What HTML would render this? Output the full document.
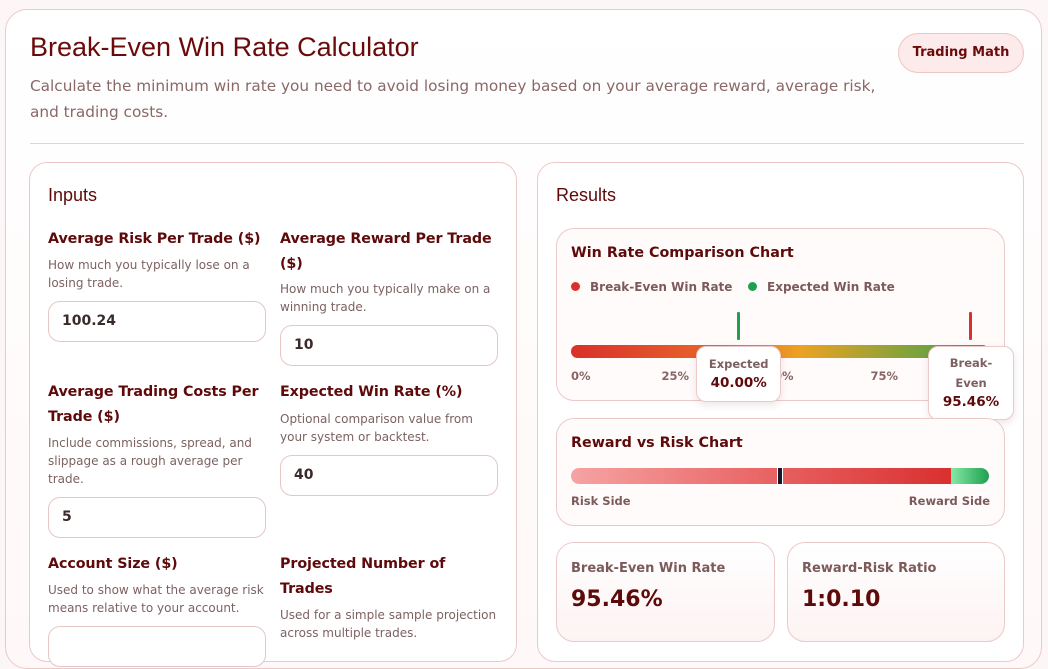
<!DOCTYPE html>
<html><head><meta charset="utf-8">
<style>
*{box-sizing:border-box;margin:0;padding:0}
body{width:1048px;height:630px;overflow:hidden;background:#fdf6f6;font-family:"DejaVu Sans","Liberation Sans",sans-serif;position:relative}
.abs{position:absolute}
.card{position:absolute;border:1px solid #ecc9c9;background:#fff;border-radius:18px}
.lbl{position:absolute;font-weight:bold;font-size:14.3px;color:#5e0a0a;line-height:25px;letter-spacing:-0.1px}
.hint{position:absolute;font-size:12px;color:#7d6262;line-height:18px}
.inp{position:absolute;width:218px;height:41px;border:1px solid #e6c6c6;border-radius:12px;background:#fff;font-weight:bold;font-size:14px;color:#3a2a2a;padding:11px 0 0 13px}
.tick{position:absolute;top:369px;font-size:11.5px;font-weight:bold;color:#8a6464}
.tip{position:absolute;background:#fff;border:1px solid #ecc9c9;border-radius:10px;box-shadow:0 3px 8px rgba(120,40,40,.12);text-align:center;font-size:11.5px;color:#7d6060;font-weight:bold}
</style></head><body>
<div class="card" style="left:5px;top:9px;width:1037px;height:660px;border-radius:22px;background:linear-gradient(#fff,#fff8f8)"></div>
<div class="abs" style="left:30px;top:32px;font-family:'Liberation Sans',sans-serif;font-size:27px;color:#6b0a0a">Break-Even Win Rate Calculator</div>
<div class="abs" style="left:30px;top:73px;width:860px;font-size:15.3px;line-height:26px;color:#8a6868">Calculate the minimum win rate you need to avoid losing money based on your average reward, average risk, and trading costs.</div>
<div class="abs" style="left:898px;top:33px;width:126px;height:40px;border-radius:20px;background:#fdeaea;border:1px solid #eec5c5;font-size:13px;font-weight:bold;color:#6b0a0a;text-align:center;line-height:38px">Trading Math</div>
<div class="abs" style="left:30px;top:143px;width:994px;height:1px;background:#ead0d0"></div>

<div class="card" style="left:29px;top:162px;width:488px;height:500px"></div>
<div class="abs" style="left:48px;top:185px;font-family:'Liberation Sans',sans-serif;font-size:18px;color:#5e0a0a">Inputs</div>

<div class="lbl" style="left:48px;top:227px">Average Risk Per Trade ($)</div>
<div class="hint" style="left:48px;top:256px;width:222px">How much you typically lose on a losing trade.</div>
<div class="inp" style="left:48px;top:301px">100.24</div>

<div class="lbl" style="left:280px;top:227px;width:225px">Average Reward Per Trade ($)</div>
<div class="hint" style="left:280px;top:280px;width:222px">How much you typically make on a winning trade.</div>
<div class="inp" style="left:280px;top:325px">10</div>

<div class="lbl" style="left:48px;top:380px;width:225px">Average Trading Costs Per Trade ($)</div>
<div class="hint" style="left:48px;top:434px;width:222px">Include commissions, spread, and slippage as a rough average per trade.</div>
<div class="inp" style="left:48px;top:497px">5</div>

<div class="lbl" style="left:280px;top:380px">Expected Win Rate (%)</div>
<div class="hint" style="left:280px;top:410px;width:215px">Optional comparison value from your system or backtest.</div>
<div class="inp" style="left:280px;top:455px">40</div>

<div class="lbl" style="left:48px;top:552px">Account Size ($)</div>
<div class="hint" style="left:48px;top:581px;width:225px">Used to show what the average risk means relative to your account.</div>
<div class="inp" style="left:48px;top:626px"></div>

<div class="lbl" style="left:280px;top:552px;width:200px">Projected Number of Trades</div>
<div class="hint" style="left:280px;top:606px;width:225px">Used for a simple sample projection across multiple trades.</div>

<div class="card" style="left:537px;top:162px;width:487px;height:500px"></div>
<div class="abs" style="left:556px;top:185px;font-family:'Liberation Sans',sans-serif;font-size:18px;color:#5e0a0a">Results</div>

<div class="card" style="left:556px;top:228px;width:449px;height:173px;background:#fffbfb"></div>
<div class="abs" style="left:571px;top:245px;font-size:14.3px;font-weight:bold;color:#5e0a0a">Win Rate Comparison Chart</div>
<div class="abs" style="left:571px;top:280px;font-size:12px;font-weight:bold;color:#7d5a5a"><span style="display:inline-block;width:9px;height:9px;border-radius:50%;background:#dc2f2f;margin-right:10px"></span>Break-Even Win Rate</div>
<div class="abs" style="left:748px;top:280px;font-size:12px;font-weight:bold;color:#7d5a5a"><span style="display:inline-block;width:9px;height:9px;border-radius:50%;background:#1ea04f;margin-right:10px"></span>Expected Win Rate</div>
<div class="abs" style="left:571px;top:345px;width:418px;height:13px;border-radius:7px;background:linear-gradient(90deg,#d9302a,#e8672a 35%,#eba224 55%,#86a23a 80%,#3fa04a)"></div>
<div id="wr"></div>

<div class="card" style="left:556px;top:418px;width:449px;height:108px;background:#fffbfb"></div>
<div class="abs" style="left:571px;top:435px;font-size:14.3px;font-weight:bold;color:#5e0a0a">Reward vs Risk Chart</div>
<div id="rr"></div>
<div class="abs" style="left:571px;top:494px;font-size:11.5px;font-weight:bold;color:#7d5a5a">Risk Side</div>
<div class="abs" style="left:990px;top:494px;transform:translateX(-100%);white-space:nowrap;font-size:11.5px;font-weight:bold;color:#7d5a5a">Reward Side</div>

<div class="card" style="left:556px;top:542px;width:219px;height:100px;background:linear-gradient(#fff,#fdf3f3)"></div>
<div class="abs" style="left:571px;top:561px;font-size:13px;font-weight:bold;color:#7d5a5a">Break-Even Win Rate</div>
<div class="abs" style="left:571px;top:587px;font-size:22px;font-weight:bold;color:#5e0a0a">95.46%</div>
<div class="card" style="left:787px;top:542px;width:218px;height:100px;background:linear-gradient(#fff,#fdf3f3)"></div>
<div class="abs" style="left:802px;top:561px;font-size:13px;font-weight:bold;color:#7d5a5a">Reward-Risk Ratio</div>
<div class="abs" style="left:802px;top:587px;font-size:22px;font-weight:bold;color:#5e0a0a">1:0.10</div>

<script>
const tickValues=[0,25,50,75,100];
const tickLabels=["0%","25%","50%","75%","100%"];
const markerNames=["Expected","Break-Even"];
const markerValues=[40.00,95.46];
const sideValues=[100.24,10];
const X0=571,W=418;
const xs=v=>X0+v/100*W;
const wr=document.getElementById('wr');
tickValues.forEach((v,i)=>{
 const t=document.createElement('div');t.className='tick';
 
 
 t.textContent=tickLabels[i];
 const x=xs(v);t.style.left=(i===0?x:x-14)+'px';wr.appendChild(t);
});
const mcol=['#1ea04f','#dc2f2f'];
markerValues.forEach((v,i)=>{
 const x=xs(v);
 const m=document.createElement('div');m.className='abs';
 
 
 m.style.cssText=`left:${x-1.5}px;top:312px;width:3px;height:28px;background:${mcol[i]};border-radius:1px`;
 wr.appendChild(m);
 const t=document.createElement('div');t.className='tip';
 
 
 if(i===0){t.style.cssText+=`left:${x-42}px;top:346px;width:85px;height:56px;padding-top:8px;line-height:19px`;
  t.innerHTML=`${markerNames[i]}<br><span style="font-size:13.5px;color:#5e0a0a">${v.toFixed(2)}%</span>`;}
 else{t.style.cssText+=`left:${x-42}px;top:346px;width:86px;height:74px;padding-top:7px;line-height:19.5px`;
  t.innerHTML=`Break-<br>Even<br><span style="font-size:13.5px;color:#5e0a0a">${v.toFixed(2)}%</span>`;}
 wr.appendChild(t);
});
const rr=document.getElementById('rr');
const tot=sideValues[0]+sideValues[1];
const riskW=sideValues[0]/tot*W;
const r=document.createElement('div');r.className='abs';


r.style.cssText=`left:${X0}px;top:468px;width:${riskW}px;height:16px;border-radius:8px 0 0 8px;background:linear-gradient(90deg,#f6a3a3,#e65a5a 60%,#d93030)`;
rr.appendChild(r);
const g=document.createElement('div');g.className='abs';


g.style.cssText=`left:${X0+riskW}px;top:468px;width:${W-riskW}px;height:16px;border-radius:0 8px 8px 0;background:linear-gradient(90deg,#86e8a6,#1ea04f)`;
rr.appendChild(g);
const d=document.createElement('div');d.className='abs';


d.style.cssText=`left:${X0+W/2-3}px;top:468px;width:6px;height:16px;background:#14182a;border-left:1.5px solid #fff;border-right:1.5px solid #fff`;
rr.appendChild(d);
</script>
</body></html>
